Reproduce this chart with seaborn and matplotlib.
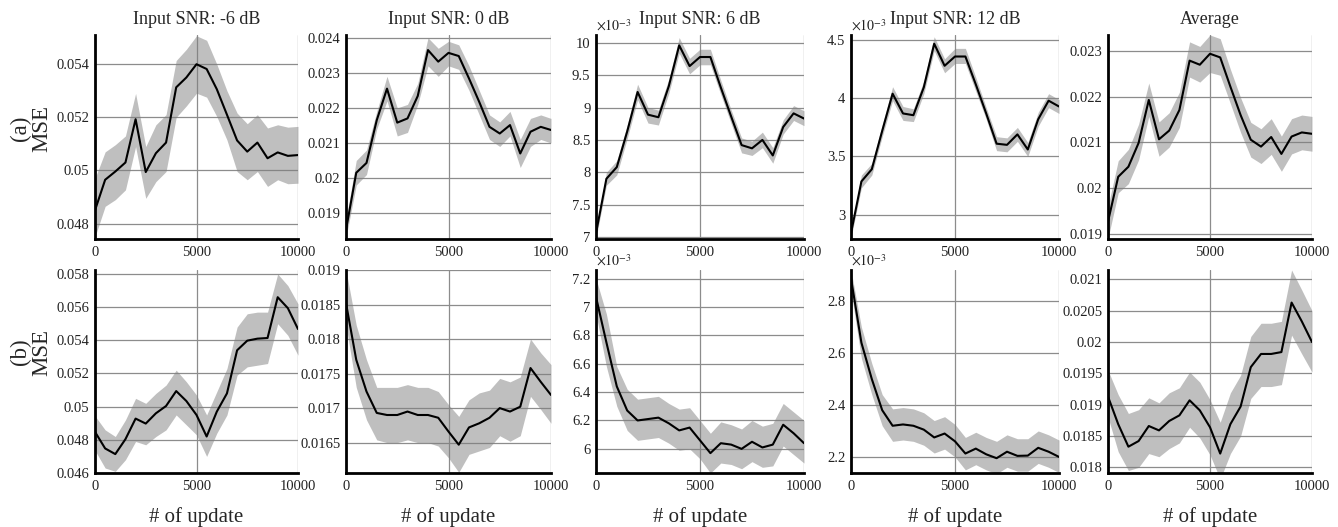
import numpy as np
import matplotlib
matplotlib.use("Agg")
import matplotlib.pyplot as plt
import seaborn as sns
from matplotlib.ticker import FuncFormatter

sns.set_theme(style="whitegrid")
plt.rcParams["font.family"] = ["Liberation Serif", "DejaVu Serif"]
plt.rcParams["mathtext.fontset"] = "stix"

# numero de actualizaciones (eje x)
updates = list(range(0, 10001, 500))

titles = ["Input SNR: -6 dB", "Input SNR: 0 dB", "Input SNR: 6 dB", "Input SNR: 12 dB", "Average"]
row_names = ["(a)", "(b)"]

# fila (a)
a_m6_mean = [0.0485, 0.04965, 0.04996, 0.0503, 0.05193, 0.04994, 0.05065, 0.05105, 0.05313, 0.0535, 0.054,
             0.05382, 0.05306, 0.0521, 0.05113, 0.05071, 0.05105, 0.05046, 0.05068, 0.05055, 0.05058]
a_m6_up = [0.0497, 0.0507, 0.05097, 0.0513, 0.0529, 0.0509, 0.05172, 0.0521, 0.05414, 0.05456, 0.05507,
           0.0549, 0.054, 0.053, 0.05216, 0.05176, 0.0521, 0.0516, 0.05172, 0.05163, 0.05166]
a_m6_lo = [0.0475, 0.04865, 0.0489, 0.04927, 0.0509, 0.04895, 0.04958, 0.04996, 0.052, 0.05243, 0.05291,
           0.05276, 0.05203, 0.05115, 0.04996, 0.04965, 0.04996, 0.0494, 0.04965, 0.0495, 0.04952]

a_0_mean = [0.01852, 0.02015, 0.02043, 0.02165, 0.02255, 0.02158, 0.0217, 0.02234, 0.02365, 0.02332, 0.02357,
            0.02348, 0.02284, 0.02217, 0.02146, 0.02127, 0.02151, 0.0207, 0.02132, 0.02146, 0.02137]
a_0_up = [0.0188, 0.0205, 0.0208, 0.0219, 0.0229, 0.0220, 0.0221, 0.0227, 0.0240, 0.0237, 0.0239,
          0.0238, 0.0232, 0.0225, 0.0218, 0.0216, 0.0219, 0.0211, 0.0217, 0.0218, 0.0217]
a_0_lo = [0.0183, 0.0198, 0.0201, 0.0214, 0.0222, 0.0212, 0.0213, 0.0221, 0.0232, 0.0229, 0.0232,
          0.0231, 0.0225, 0.0218, 0.0211, 0.0209, 0.0212, 0.0203, 0.0209, 0.0211, 0.0210]

# valores en unidades de 1e-3
a_6_mean = [7.06, 7.9, 8.08, 8.63, 9.24, 8.89, 8.85, 9.33, 9.96, 9.64, 9.78,
            9.78, 9.31, 8.86, 8.42, 8.37, 8.5, 8.26, 8.7, 8.91, 8.83]
a_6_up = [7.12, 8.0, 8.18, 8.73, 9.36, 9.0, 8.96, 9.44, 10.08, 9.76, 9.9,
          9.9, 9.42, 8.96, 8.53, 8.48, 8.62, 8.38, 8.81, 9.03, 8.95]
a_6_lo = [6.98, 7.8, 7.96, 8.52, 9.12, 8.76, 8.73, 9.22, 9.84, 9.52, 9.66,
          9.66, 9.2, 8.75, 8.3, 8.26, 8.38, 8.14, 8.59, 8.8, 8.72]

a_12_mean = [2.84, 3.285, 3.39, 3.72, 4.04, 3.87, 3.855, 4.095, 4.47, 4.28, 4.36,
             4.36, 4.12, 3.87, 3.61, 3.6, 3.69, 3.56, 3.82, 3.98, 3.93]
a_12_up = [2.88, 3.34, 3.44, 3.77, 4.1, 3.93, 3.91, 4.15, 4.53, 4.34, 4.43,
           4.43, 4.18, 3.92, 3.67, 3.66, 3.75, 3.62, 3.88, 4.04, 3.99]
a_12_lo = [2.8, 3.23, 3.34, 3.67, 3.98, 3.81, 3.8, 4.04, 4.41, 4.22, 4.3,
           4.3, 4.06, 3.82, 3.55, 3.54, 3.63, 3.5, 3.76, 3.92, 3.87]

a_avg_mean = [0.01927, 0.02025, 0.02047, 0.02099, 0.02193, 0.02107, 0.02126, 0.02171, 0.02279, 0.0227, 0.02294,
              0.02286, 0.02222, 0.0216, 0.02106, 0.02091, 0.02112, 0.02075, 0.02113, 0.02122, 0.02119]
a_avg_up = [0.0196, 0.0206, 0.02085, 0.0214, 0.0223, 0.02145, 0.02165, 0.0221, 0.0232, 0.0231, 0.02335,
            0.02327, 0.0226, 0.02198, 0.02144, 0.0213, 0.02152, 0.02114, 0.02152, 0.0216, 0.02157]
a_avg_lo = [0.0189, 0.0199, 0.0201, 0.02062, 0.02157, 0.0207, 0.0209, 0.02133, 0.02243, 0.02232, 0.02253,
            0.02247, 0.02185, 0.02122, 0.02068, 0.02054, 0.02074, 0.02037, 0.02075, 0.02084, 0.02081]

# fila (b)
b_m6_mean = [0.04848, 0.04748, 0.04714, 0.04804, 0.04928, 0.04898, 0.0496, 0.05004, 0.05094, 0.05034, 0.0495,
             0.0482, 0.0497, 0.0508, 0.0534, 0.05398, 0.0541, 0.05414, 0.0566, 0.05594, 0.05468]
b_m6_up = [0.04944, 0.0486, 0.0482, 0.0492, 0.0505, 0.0502, 0.0508, 0.0513, 0.0522, 0.0515, 0.0507,
           0.0495, 0.0509, 0.0523, 0.0548, 0.0556, 0.0557, 0.0557, 0.058, 0.0573, 0.0562]
b_m6_lo = [0.04736, 0.0463, 0.0461, 0.0468, 0.0479, 0.0477, 0.0482, 0.0486, 0.0495, 0.0489, 0.0483,
           0.047, 0.0484, 0.0495, 0.0519, 0.0524, 0.0525, 0.0526, 0.055, 0.0543, 0.0531]

b_0_mean = [0.01852, 0.0177, 0.01724, 0.01693, 0.0169, 0.0169, 0.01695, 0.0169, 0.0169, 0.01686, 0.01666,
            0.01647, 0.01672, 0.01678, 0.01686, 0.017, 0.01695, 0.01702, 0.01758, 0.01738, 0.01719]
b_0_up = [0.0190, 0.0182, 0.0177, 0.0173, 0.0173, 0.0173, 0.01734, 0.0173, 0.0173, 0.01724, 0.01705,
          0.01688, 0.01712, 0.01722, 0.01726, 0.01743, 0.01738, 0.01745, 0.018, 0.0178, 0.01763]
b_0_lo = [0.0182, 0.0173, 0.01683, 0.01654, 0.0165, 0.0165, 0.01654, 0.0165, 0.0165, 0.01645, 0.01628,
          0.01607, 0.01633, 0.01638, 0.01643, 0.0166, 0.01652, 0.0166, 0.01717, 0.01698, 0.01678]

b_6_mean = [7.07, 6.75, 6.44, 6.27, 6.2, 6.21, 6.22, 6.18, 6.13, 6.15, 6.06,
            5.97, 6.04, 6.03, 6.0, 6.05, 6.01, 6.03, 6.17, 6.11, 6.04]
b_6_up = [7.2, 6.95, 6.58, 6.42, 6.35, 6.36, 6.37, 6.32, 6.28, 6.29, 6.2,
          6.11, 6.19, 6.17, 6.14, 6.2, 6.16, 6.18, 6.32, 6.26, 6.2]
b_6_lo = [6.95, 6.58, 6.3, 6.13, 6.06, 6.07, 6.08, 6.04, 5.99, 6.0, 5.93,
          5.83, 5.9, 5.89, 5.86, 5.91, 5.87, 5.88, 6.02, 5.96, 5.9]

b_12_mean = [2.888, 2.64, 2.5, 2.38, 2.32, 2.325, 2.32, 2.305, 2.275, 2.29, 2.26,
             2.213, 2.232, 2.21, 2.195, 2.22, 2.204, 2.205, 2.235, 2.22, 2.2]
b_12_up = [2.92, 2.7, 2.56, 2.44, 2.385, 2.39, 2.385, 2.37, 2.34, 2.355, 2.325,
           2.275, 2.295, 2.275, 2.26, 2.285, 2.27, 2.27, 2.3, 2.285, 2.265]
b_12_lo = [2.84, 2.58, 2.44, 2.32, 2.26, 2.265, 2.26, 2.245, 2.215, 2.23, 2.2,
           2.15, 2.17, 2.15, 2.135, 2.16, 2.145, 2.145, 2.175, 2.16, 2.14]

b_avg_mean = [0.01913, 0.01869, 0.01833, 0.01842, 0.01866, 0.01859, 0.01874, 0.01883, 0.01907, 0.01891, 0.01864,
              0.01822, 0.01869, 0.01897, 0.0196, 0.01981, 0.01981, 0.01984, 0.02063, 0.02033, 0.02]
b_avg_up = [0.01955, 0.01916, 0.01886, 0.01892, 0.01911, 0.01903, 0.01919, 0.01927, 0.01952, 0.01936, 0.01908,
            0.01872, 0.01919, 0.01947, 0.02009, 0.0203, 0.0203, 0.02033, 0.02115, 0.02083, 0.0205]
b_avg_lo = [0.0188, 0.01825, 0.01795, 0.018, 0.01822, 0.01817, 0.0183, 0.01839, 0.01864, 0.01847, 0.0182,
            0.01781, 0.01822, 0.0185, 0.0191, 0.01929, 0.01929, 0.01932, 0.02011, 0.01981, 0.01952]

# ticks del eje y
yticks = [
    [[0.048, 0.05, 0.052, 0.054], [0.019, 0.02, 0.021, 0.022, 0.023, 0.024],
     [7, 7.5, 8, 8.5, 9, 9.5, 10], [3, 3.5, 4, 4.5], [0.019, 0.02, 0.021, 0.022, 0.023]],
    [[0.046, 0.048, 0.05, 0.052, 0.054, 0.056, 0.058], [0.0165, 0.017, 0.0175, 0.018, 0.0185, 0.019],
     [6, 6.2, 6.4, 6.6, 6.8, 7, 7.2], [2.2, 2.4, 2.6, 2.8],
     [0.018, 0.0185, 0.019, 0.0195, 0.02, 0.0205, 0.021]],
]
ylims = [
    [(0.04742, 0.0551), (0.01826, 0.02408), (6.97, 10.12), (2.79, 4.545), (0.01889, 0.02335)],
    [(0.046, 0.05824), (0.01606, 0.0190), (5.83, 7.26), (2.138, 2.92), (0.01791, 0.02115)],
]
series = [
    [(a_m6_mean, a_m6_up, a_m6_lo), (a_0_mean, a_0_up, a_0_lo), (a_6_mean, a_6_up, a_6_lo),
     (a_12_mean, a_12_up, a_12_lo), (a_avg_mean, a_avg_up, a_avg_lo)],
    [(b_m6_mean, b_m6_up, b_m6_lo), (b_0_mean, b_0_up, b_0_lo), (b_6_mean, b_6_up, b_6_lo),
     (b_12_mean, b_12_up, b_12_lo), (b_avg_mean, b_avg_up, b_avg_lo)],
]
scaled = [False, False, True, True, False]

W, H = 1338, 527
fig = plt.figure(figsize=(W / 100, H / 100), dpi=100)

col_px = [(95, 298), (346, 551), (596, 804), (851, 1059), (1108, 1312)]
row_px = [(35, 239), (270, 473)]
row_label_y = [128, 352]

fmt = FuncFormatter(lambda v, p: "{:g}".format(round(v, 6)))

for r in range(2):
    for c in range(5):
        x0, x1 = col_px[c]
        y0, y1 = row_px[r]
        ax = fig.add_axes([x0 / W, 1 - y1 / H, (x1 - x0) / W, (y1 - y0) / H])
        mean, up, lo = series[r][c]
        ax.fill_between(updates, lo, up, color="gray", alpha=0.5, linewidth=0, zorder=2)
        sns.lineplot(x=updates, y=mean, ax=ax, color="black", linewidth=1.5, zorder=3)
        ax.set_xlim(0, 10000)
        ax.set_ylim(*ylims[r][c])
        ax.set_xticks([0, 5000, 10000])
        ax.set_yticks(yticks[r][c])
        ax.yaxis.set_major_formatter(fmt)
        ax.set_facecolor("white")
        ax.grid(True, color="#8c8c8c", linewidth=0.9, zorder=0)
        ax.set_axisbelow(True)
        for s in ["top", "right"]:
            ax.spines[s].set_visible(False)
        for s in ["left", "bottom"]:
            ax.spines[s].set_color("black")
            ax.spines[s].set_linewidth(2)
        ax.tick_params(axis="both", length=0, labelsize=10.5, colors="#222222")
        ax.tick_params(axis="y", pad=4)
        ax.tick_params(axis="x", pad=5)
        if scaled[c]:
            ax.text(0.0, 1.005, "$\\times 10^{-3}$", transform=ax.transAxes, fontsize=10,
                    ha="left", va="bottom", color="#222222")
        if r == 0:
            ax.set_title(titles[c], fontsize=13, pad=8)
        else:
            ax.set_xlabel("# of update", fontsize=15, labelpad=10)

    # etiqueta de fila
    fig.text(31 / W, 1 - row_label_y[r] / H, row_names[r] + "\nMSE", rotation=90,
             ha="center", va="center", multialignment="center", fontsize=16.5, linespacing=1.0)

plt.savefig("out.png", dpi=100)
